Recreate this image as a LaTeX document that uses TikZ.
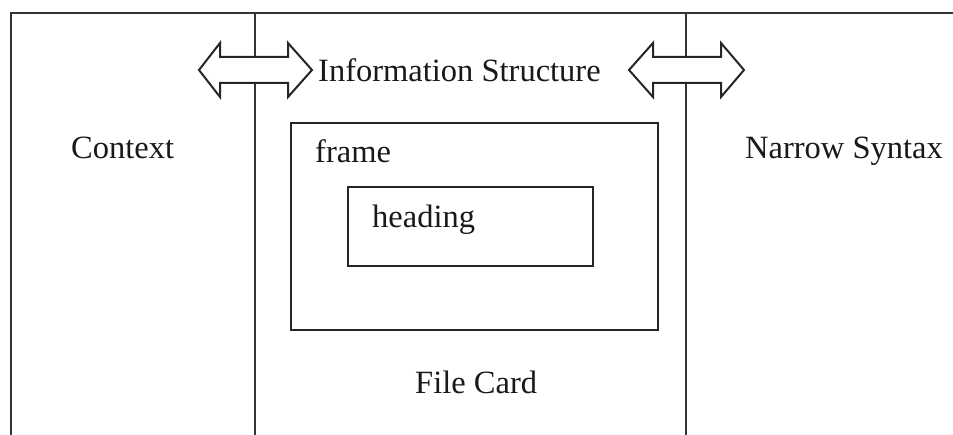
\documentclass[tikz,border=0pt]{standalone}
\usepackage{fontspec}
\setmainfont{Liberation Serif}
\begin{document}
\begin{tikzpicture}[x=1pt,y=-1pt,
  rule/.style={draw=black!80, line width=2pt},
  dblarrow/.style={draw=black!85, fill=white, line width=2pt, line join=miter},
  boxnode/.style={draw=black!85, line width=2.2pt, inner sep=0pt},
  lbl/.style={font=\fontsize{32.5}{38}\selectfont, text=black!90, inner sep=0pt, anchor=base west}]
\useasboundingbox (0,0) rectangle (953,435);
% frame lines
\draw[rule] (11,435) -- (11,13) -- (953,13);
\draw[rule] (255,13) -- (255,435);
\draw[rule] (686,13) -- (686,435);
% double arrows
\draw[dblarrow] (199,70) -- (220,43) -- (220,57) -- (288,57) -- (288,43) -- (312,70) -- (288,97) -- (288,83) -- (220,83) -- (220,97) -- cycle;
\draw[dblarrow] (629,70) -- (653,43) -- (653,57) -- (721,57) -- (721,43) -- (744,70) -- (721,97) -- (721,83) -- (653,83) -- (653,97) -- cycle;
% boxes
\node[boxnode, minimum width=367pt, minimum height=207pt] (frm) at (474.5,226.5) {};
\node[boxnode, minimum width=245pt, minimum height=79pt] (hd) at (470.5,226.5) {};
% labels
\node[lbl] (info) at (318,82) {Information Structure};
\node[lbl] (ctx) at (71,159) {Context};
\node[lbl] (ns) at (745,159) {Narrow Syntax};
\node[lbl] (frl) at (315,163) {frame};
\node[lbl] (hdl) at (372,228) {heading};
\node[lbl] (fc) at (415,393) {File Card};
\end{tikzpicture}
\end{document}
